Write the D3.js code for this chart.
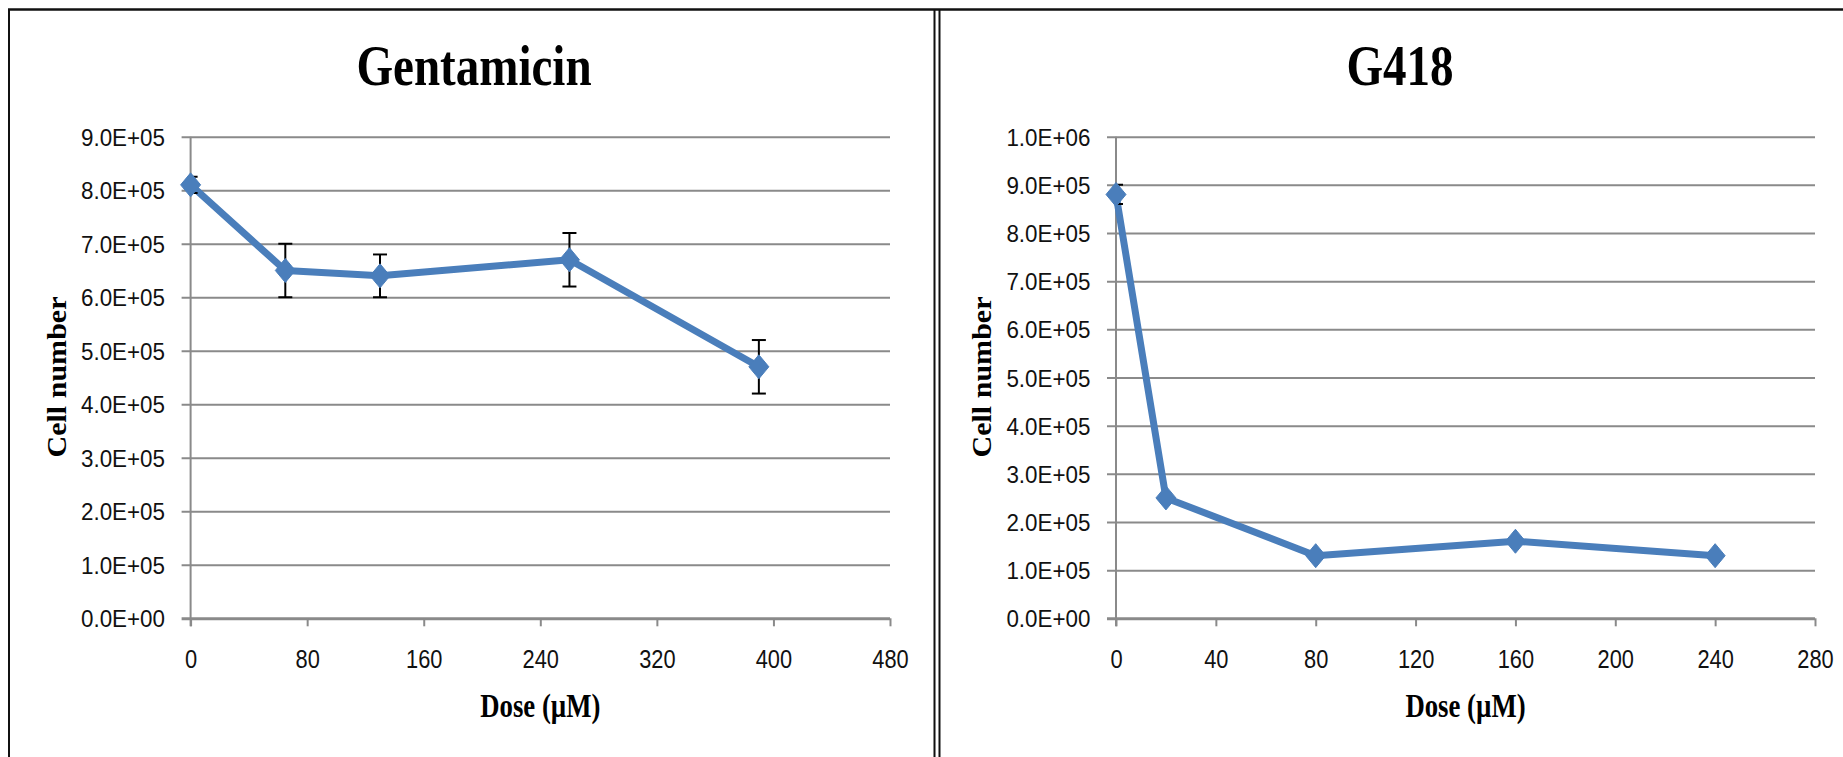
<!DOCTYPE html>
<html>
<head>
<meta charset="utf-8">
<script src="https://cdn.jsdelivr.net/npm/d3@7"></script>
<style>
  html, body { margin: 0; padding: 0; background: #ffffff; }
  svg { display: block; }
</style>
</head>
<body>
<svg id="chart" width="1843" height="757"></svg>
<script>
// ---------------- data ----------------
const gentaTitle = "Gentamicin";
const gentaDose = [0, 65, 130, 260, 390];
const gentaCells = [8.1e5, 6.5e5, 6.4e5, 6.7e5, 4.7e5];
const gentaErr = [0.15e5, 0.5e5, 0.4e5, 0.5e5, 0.5e5];
const gentaXTicks = [0, 80, 160, 240, 320, 400, 480];
const gentaYTicks = [0, 1e5, 2e5, 3e5, 4e5, 5e5, 6e5, 7e5, 8e5, 9e5];
const gentaYLabels = ["0.0E+00", "1.0E+05", "2.0E+05", "3.0E+05", "4.0E+05", "5.0E+05", "6.0E+05", "7.0E+05", "8.0E+05", "9.0E+05"];

const g418Title = "G418";
const g418Dose = [0, 20, 80, 160, 240];
const g418Cells = [8.8e5, 2.5e5, 1.3e5, 1.6e5, 1.3e5];
const g418Err = [0.2e5, 0, 0, 0, 0];
const g418XTicks = [0, 40, 80, 120, 160, 200, 240, 280];
const g418YTicks = [0, 1e5, 2e5, 3e5, 4e5, 5e5, 6e5, 7e5, 8e5, 9e5, 1e6];
const g418YLabels = ["0.0E+00", "1.0E+05", "2.0E+05", "3.0E+05", "4.0E+05", "5.0E+05", "6.0E+05", "7.0E+05", "8.0E+05", "9.0E+05", "1.0E+06"];

const xAxisTitle = "Dose (µM)";
const yAxisTitle = "Cell number";

// ---------------- layout ----------------
const svg = d3.select("#chart");
const BLUE = "#4A7EBB";
const GRID = "#8a8a8a";
const yTopPx = 136.7, yBotPx = 618.3;

function condense(sel, factor) {
  sel.each(function () {
    const L = this.getComputedTextLength();
    this.setAttribute("textLength", (L * factor).toFixed(1));
    this.setAttribute("lengthAdjust", "spacingAndGlyphs");
  });
}

// panel frames
const frame = svg.append("g").attr("fill", "none").attr("stroke", "#111");
frame.append("line").attr("x1", 9).attr("x2", 9).attr("y1", 9).attr("y2", 757).attr("stroke-width", 2);
frame.append("line").attr("x1", 934.5).attr("x2", 934.5).attr("y1", 9).attr("y2", 757).attr("stroke-width", 2);
frame.append("line").attr("x1", 939.5).attr("x2", 939.5).attr("y1", 9).attr("y2", 757).attr("stroke-width", 2);
frame.append("line").attr("x1", 8).attr("x2", 1843).attr("y1", 9.5).attr("y2", 9.5).attr("stroke-width", 2.5);

const panels = [
  { id: "p0", title: gentaTitle, titleX: 474, dose: gentaDose, cells: gentaCells, err: gentaErr,
    xTicks: gentaXTicks, yTicks: gentaYTicks, yLabels: gentaYLabels, x0: 190.6, x1: 890 },
  { id: "p1", title: g418Title, titleX: 1400, dose: g418Dose, cells: g418Cells, err: g418Err,
    xTicks: g418XTicks, yTicks: g418YTicks, yLabels: g418YLabels, x0: 1116, x1: 1815 }
];

const defs = svg.append("defs");

panels.forEach(p => {
  const g = svg.append("g");
  const x = d3.scaleLinear().domain([0, d3.max(p.xTicks)]).range([p.x0, p.x1]);
  const y = d3.scaleLinear().domain([0, d3.max(p.yTicks)]).range([yBotPx, yTopPx]);

  defs.append("clipPath").attr("id", "clip-" + p.id)
    .append("rect").attr("x", p.x0).attr("y", yTopPx - 30)
    .attr("width", p.x1 - p.x0 + 10).attr("height", yBotPx - yTopPx + 30);

  // title
  const t = g.append("text").attr("x", p.titleX).attr("y", 85)
    .attr("text-anchor", "middle")
    .attr("font-family", "'Liberation Serif', 'Times New Roman', serif")
    .attr("font-weight", "bold").attr("font-size", 57).attr("fill", "#000")
    .text(p.title);
  condense(t, 0.825);

  // y axis with gridlines
  const yAxis = d3.axisLeft(y).tickValues(p.yTicks)
    .tickFormat((d, i) => p.yLabels[i])
    .tickSizeInner(9).tickSizeOuter(0).tickPadding(16.6);
  const gy = g.append("g").attr("transform", `translate(${p.x0},0)`).call(yAxis);
  gy.select(".domain").remove();
  gy.selectAll(".tick line")
    .attr("x1", -9).attr("x2", p.x1 - p.x0)
    .attr("stroke", GRID).attr("stroke-width", d => d === 0 ? 3 : 2);
  gy.selectAll(".tick text")
    .attr("font-family", "'Liberation Sans', Arial, sans-serif")
    .attr("font-size", 24).attr("fill", "#111").attr("dy", "0.36em")
    .attr("textLength", 84).attr("lengthAdjust", "spacingAndGlyphs");

  // vertical axis line
  g.append("line").attr("x1", p.x0).attr("x2", p.x0).attr("y1", yTopPx).attr("y2", yBotPx + 8)
    .attr("stroke", GRID).attr("stroke-width", 2);

  // x axis
  const xAxis = d3.axisBottom(x).tickValues(p.xTicks).tickFormat(d3.format("d"))
    .tickSizeInner(8).tickSizeOuter(0).tickPadding(23);
  const gx = g.append("g").attr("transform", `translate(0,${yBotPx})`).call(xAxis);
  gx.select(".domain").remove();
  gx.selectAll(".tick line").attr("stroke", GRID).attr("stroke-width", 2);
  gx.selectAll(".tick text")
    .attr("font-family", "'Liberation Sans', Arial, sans-serif")
    .attr("font-size", 26).attr("fill", "#111");
  condense(gx.selectAll(".tick text"), 0.84);

  // axis titles
  const xt = g.append("text").attr("x", (p.x0 + p.x1) / 2).attr("y", 716.7)
    .attr("text-anchor", "middle")
    .attr("font-family", "'Liberation Serif', 'Times New Roman', serif")
    .attr("font-weight", "bold").attr("font-size", 33).attr("fill", "#000")
    .text(xAxisTitle);
  condense(xt, 0.81);

  g.append("text")
    .attr("transform", `translate(${p.x0 - 125},377) rotate(-90)`)
    .attr("text-anchor", "middle")
    .attr("font-family", "'Liberation Serif', 'Times New Roman', serif")
    .attr("font-weight", "bold").attr("font-size", 28).attr("fill", "#000")
    .attr("textLength", 161).attr("lengthAdjust", "spacingAndGlyphs")
    .text(yAxisTitle);

  // series
  const pts = p.dose.map((d, i) => ({ dose: d, cells: p.cells[i], err: p.err[i] }));
  g.append("path").datum(pts)
    .attr("fill", "none").attr("stroke", BLUE).attr("stroke-width", 7)
    .attr("stroke-linejoin", "round").attr("stroke-linecap", "round")
    .attr("d", d3.line().x(d => x(d.dose)).y(d => y(d.cells)));

  // error bars (clipped to plot area)
  const eb = g.append("g").attr("stroke", "#000").attr("stroke-width", 2)
    .attr("clip-path", `url(#clip-${p.id})`);
  pts.filter(d => d.err > 0).forEach(d => {
    const cx = x(d.dose), ya = y(d.cells + d.err), yb = y(d.cells - d.err);
    eb.append("line").attr("x1", cx).attr("x2", cx).attr("y1", ya).attr("y2", yb);
    eb.append("line").attr("x1", cx - 7).attr("x2", cx + 7).attr("y1", ya).attr("y2", ya);
    eb.append("line").attr("x1", cx - 7).attr("x2", cx + 7).attr("y1", yb).attr("y2", yb);
  });

  // diamond markers
  g.selectAll(".marker").data(pts).enter().append("path")
    .attr("class", "marker")
    .attr("transform", d => `translate(${x(d.dose)},${y(d.cells)})`)
    .attr("d", "M0,-12L10,0L0,12L-10,0Z")
    .attr("fill", BLUE).attr("stroke", BLUE).attr("stroke-width", 1);
});
</script>
</body>
</html>
